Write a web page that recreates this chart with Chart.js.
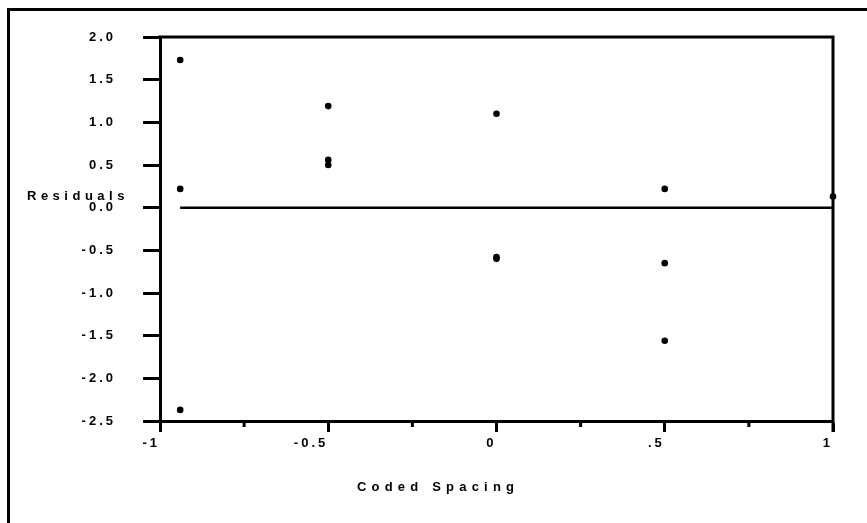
<!DOCTYPE html>
<html><head><meta charset="utf-8">
<script src="https://cdn.jsdelivr.net/npm/chart.js@4"></script>
<style>
html,body{margin:0;padding:0;background:#fff;overflow:hidden}
#wrap{position:relative;width:867px;height:523px}
#frame{position:absolute;left:7px;top:8px;width:900px;height:513px;border-left:3px solid #000;border-top:3px solid #000;border-bottom:1px solid #bbb}
canvas{position:absolute;left:0;top:0}
</style></head><body>
<div id="wrap"><div id="frame"></div><canvas id="c" width="867" height="523"></canvas></div>
<script>
const xValues = [-0.94, -0.94, -0.94, -0.5, -0.5, -0.5, 0, 0, 0, 0.5, 0.5, 0.5, 1];
const residuals = [1.73, 0.22, -2.37, 1.19, 0.56, 0.50, 1.10, -0.58, -0.60, 0.22, -0.65, -1.56, 0.13];
const zeroLineX = [-0.94, 1];
const zeroLineY = [0, 0];
const xTickValues = [-1, -0.5, 0, 0.5, 1];
const xTickLabels = ['-1', '-0.5', '0', '.5', '1'];
const xMinorTicks = [-0.75, -0.25, 0.25, 0.75];
const yTickValues = [2, 1.5, 1, 0.5, 0, -0.5, -1, -1.5, -2, -2.5];
const yTickLabels = ['2.0', '1.5', '1.0', '0.5', '0.0', '-0.5', '-1.0', '-1.5', '-2.0', '-2.5'];
const xTitle = 'Coded Spacing';
const yTitle = 'Residuals';

const FONT = "'Liberation Sans', Arial, sans-serif";

const extras = {
  id: 'extras',
  beforeUpdate(chart) { chart.ctx.letterSpacing = '3px'; },
  beforeDraw(chart) { chart.ctx.letterSpacing = '3px'; },
  afterDraw(chart) {
    const ctx = chart.ctx, a = chart.chartArea, xs = chart.scales.x;
    ctx.save();
    ctx.strokeStyle = '#000';
    ctx.lineWidth = 3;
    ctx.beginPath();
    ctx.moveTo(a.left - 1.5, a.top);
    ctx.lineTo(a.right, a.top);
    ctx.lineTo(a.right, a.bottom + 11);
    ctx.stroke();
    ctx.beginPath();
    xMinorTicks.forEach(v => {
      const px = xs.getPixelForValue(v);
      ctx.moveTo(px, a.bottom);
      ctx.lineTo(px, a.bottom + 6);
    });
    ctx.stroke();
    ctx.fillStyle = '#000';
    ctx.font = 'bold 13px ' + FONT;
    ctx.textAlign = 'left';
    ctx.textBaseline = 'alphabetic';
    ctx.letterSpacing = '4.5px';
    ctx.fillText(yTitle, 27, 200);
    ctx.letterSpacing = '5.2px';
    ctx.fillText(xTitle, 357, 491);
    ctx.restore();
  }
};

new Chart(document.getElementById('c'), {
  type: 'scatter',
  data: {
    datasets: [
      {
        data: xValues.map((x, i) => ({ x: x, y: residuals[i] })),
        backgroundColor: '#000', borderColor: '#000',
        pointRadius: 3.3, pointBorderWidth: 0, pointStyle: 'circle',
        clip: false
      },
      {
        data: zeroLineX.map((x, i) => ({ x: x, y: zeroLineY[i] })),
        showLine: true, borderColor: '#000', borderWidth: 2.5,
        pointRadius: 0, clip: false
      }
    ]
  },
  options: {
    responsive: false, animation: false,
    events: [],
    layout: { padding: { left: 0, top: 37, right: 34, bottom: 32 } },
    plugins: { legend: { display: false }, tooltip: { enabled: false } },
    scales: {
      x: {
        type: 'linear', min: -1, max: 1,
        afterBuildTicks: s => { s.ticks = xTickValues.map(v => ({ value: v })); },
        afterFit: s => { s.height = 70; },
        ticks: {
          autoSkip: false, maxRotation: 0, align: 'end', padding: 4,
          color: '#000', font: { family: FONT, size: 13, weight: 'bold' },
          callback: (v, i) => xTickLabels[i]
        },
        grid: { drawOnChartArea: false, drawTicks: true, tickLength: 11, tickColor: '#000', tickWidth: 3 },
        border: { display: true, color: '#000', width: 3 }
      },
      y: {
        type: 'linear', min: -2.5, max: 2,
        afterBuildTicks: s => { s.ticks = yTickValues.map(v => ({ value: v })); },
        afterFit: s => { s.width = 160; },
        ticks: {
          autoSkip: false, padding: 27,
          color: '#000', font: { family: FONT, size: 13, weight: 'bold' },
          callback: (v, i) => yTickLabels[i]
        },
        grid: { drawOnChartArea: false, drawTicks: true, tickLength: 17, tickColor: '#000', tickWidth: 3 },
        border: { display: true, color: '#000', width: 3 }
      }
    }
  },
  plugins: [extras]
});
</script>
</body></html>
